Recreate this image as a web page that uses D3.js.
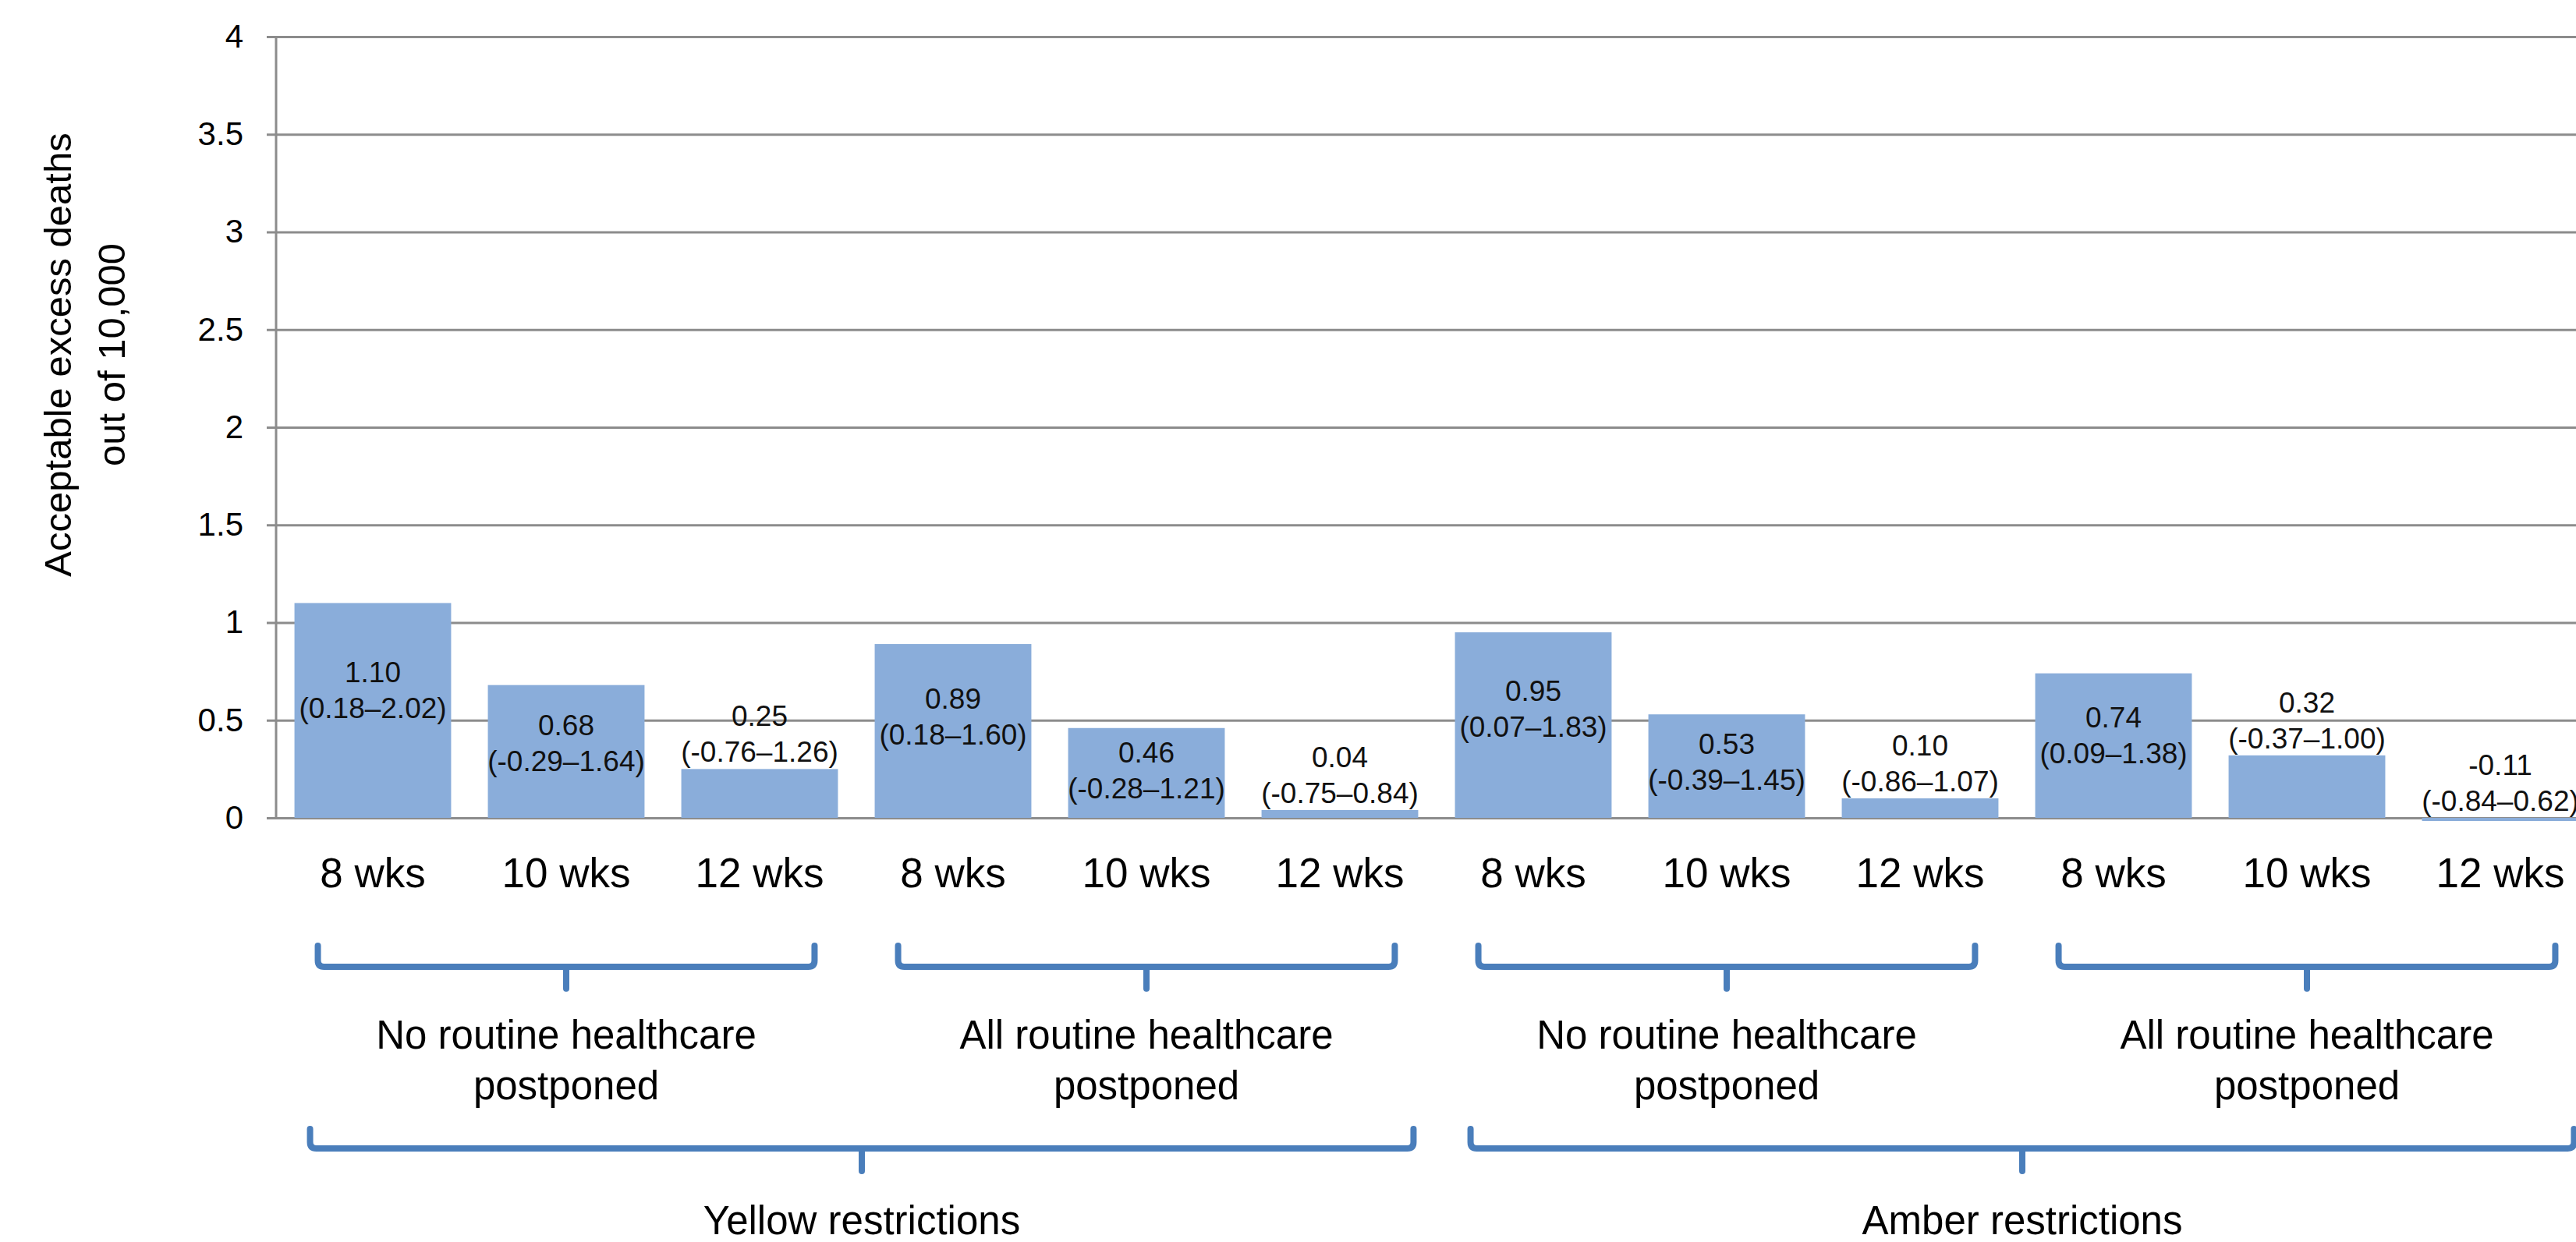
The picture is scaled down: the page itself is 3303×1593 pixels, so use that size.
<!DOCTYPE html>
<html lang="en">
<head>
<meta charset="utf-8">
<title>Acceptable excess deaths</title>
<script src="https://d3js.org/d3.v7.min.js"></script>
<style>
  body { margin: 0; background: #fff; }
  text { font-family: "Liberation Sans", Arial, sans-serif; fill: #000; }
  .grid line { stroke: #8c8c8c; stroke-width: 3px; }
  .grid text { font-size: 42px; }
  .bar { fill: #8aadda; }
  .val { font-size: 37px; fill: #111; }
  .cat { font-size: 53px; }
  .grp { font-size: 51px; }
  .brace { fill: none; stroke: #4a7ebb; stroke-width: 8px; stroke-linejoin: round; stroke-linecap: round; }
</style>
</head>
<body>
<div id="chart"></div>
<script>
// values
var weeks = ["8 wks", "10 wks", "12 wks", "8 wks", "10 wks", "12 wks",
             "8 wks", "10 wks", "12 wks", "8 wks", "10 wks", "12 wks"];
var deaths = [1.10, 0.68, 0.25, 0.89, 0.46, 0.04, 0.95, 0.53, 0.10, 0.74, 0.32, -0.11];
var ciLow  = [0.18, -0.29, -0.76, 0.18, -0.28, -0.75, 0.07, -0.39, -0.86, 0.09, -0.37, -0.84];
var ciHigh = [2.02, 1.64, 1.26, 1.60, 1.21, 0.84, 1.83, 1.45, 1.07, 1.38, 1.00, 0.62];
var careGroups = [["No routine healthcare", "postponed"], ["All routine healthcare", "postponed"],
                  ["No routine healthcare", "postponed"], ["All routine healthcare", "postponed"]];
var restrictions = ["Yellow restrictions", "Amber restrictions"];
var yTicks = [0, 0.5, 1, 1.5, 2, 2.5, 3, 3.5, 4];
var yTitle = ["Acceptable excess deaths", "out of 10,000"];

var width = 3303, height = 1593;
var plotLeft = 354, plotTop = 47, plotBottom = 1049, step = 248;

var svg = d3.select("#chart").append("svg")
    .attr("width", width)
    .attr("height", height);

var x = d3.scaleBand()
    .domain(d3.range(weeks.length))
    .range([plotLeft, plotLeft + step * weeks.length])
    .paddingInner(0.19)
    .paddingOuter(0.095);

var y = d3.scaleLinear().domain([0, 4]).range([plotBottom, plotTop]);

// gridlines + tick labels
svg.append("g")
    .attr("class", "grid")
    .attr("transform", "translate(" + (plotLeft - 12) + ",0)")
    .call(d3.axisLeft(y).tickValues(yTicks).tickFormat(d3.format("~g"))
        .tickSize(-(width - plotLeft + 12)).tickPadding(30))
    .call(function(g) { g.select(".domain").remove(); });

// y axis line
svg.append("line")
    .attr("x1", plotLeft).attr("x2", plotLeft)
    .attr("y1", y(4)).attr("y2", y(0))
    .attr("stroke", "#8c8c8c").attr("stroke-width", 3);

// axis title
svg.append("g").selectAll("text")
    .data(yTitle)
    .join("text")
    .attr("transform", function(d, i) { return "translate(" + (74 + i * 69) + "," + 455 + ") rotate(-90)"; })
    .attr("text-anchor", "middle")
    .attr("dy", "0.35em")
    .style("font-size", "49px")
    .text(function(d) { return d; });

// bars (negative values get clipped at the axis like the original)
svg.append("clipPath").attr("id", "plot")
    .append("rect")
    .attr("x", plotLeft).attr("y", y(4))
    .attr("width", width - plotLeft).attr("height", y(0) - y(4) + 4);

svg.append("g").attr("clip-path", "url(#plot)")
    .selectAll("rect")
    .data(deaths)
    .join("rect")
    .attr("class", "bar")
    .attr("x", function(d, i) { return x(i); })
    .attr("width", x.bandwidth())
    .attr("y", function(d) { return y(Math.max(d, 0)); })
    .attr("height", function(d) { return Math.abs(y(d) - y(0)); });

// value labels: inside tall bars, above short ones
function labelMid(d) {
    return d >= 0.4 ? y(d * 0.64 - 0.05) : y(Math.max(d, 0) + 0.18);
}
var labels = svg.append("g").selectAll("g")
    .data(deaths)
    .join("g")
    .attr("transform", function(d, i) { return "translate(" + (x(i) + x.bandwidth() / 2) + "," + labelMid(d) + ")"; });
labels.append("text")
    .attr("class", "val")
    .attr("text-anchor", "middle")
    .attr("y", -10)
    .text(function(d) { return d.toFixed(2); });
labels.append("text")
    .attr("class", "val")
    .attr("text-anchor", "middle")
    .attr("y", 36)
    .text(function(d, i) { return "(" + ciLow[i].toFixed(2) + "\u2013" + ciHigh[i].toFixed(2) + ")"; });

// category labels
svg.append("g").selectAll("text")
    .data(weeks)
    .join("text")
    .attr("class", "cat")
    .attr("text-anchor", "middle")
    .attr("x", function(d, i) { return x(i) + x.bandwidth() / 2; })
    .attr("y", 1138)
    .text(function(d) { return d; });

// braces
function brace(i0, i1, insetL, insetR, yTop, yLine, yTip) {
    var l = x(i0) + insetL, r = x(i1) + x.bandwidth() - insetR, c = (l + r) / 2, k = 8;
    return {c: c, d: "M" + l + "," + yTop + "V" + (yLine - k) + "Q" + l + "," + yLine + " " + (l + k) + "," + yLine +
        "H" + (r - k) + "Q" + r + "," + yLine + " " + r + "," + (yLine - k) + "V" + yTop +
        "M" + c + "," + yLine + "V" + yTip};
}

var care = careGroups.map(function(g, j) { return brace(j * 3, j * 3 + 2, 30, 30, 1213, 1240, 1268); });
svg.append("g").selectAll("path")
    .data(care).join("path")
    .attr("class", "brace")
    .attr("d", function(b) { return b.d; });

var careText = svg.append("g").selectAll("text")
    .data(careGroups).join("text")
    .attr("class", "grp")
    .attr("text-anchor", "middle");
careText.selectAll("tspan")
    .data(function(g, j) { return g.map(function(t) { return {t: t, c: care[j].c}; }); })
    .join("tspan")
    .attr("x", function(d) { return d.c; })
    .attr("y", function(d, k) { return 1345 + k * 65; })
    .text(function(d) { return d.t; });

var restr = restrictions.map(function(g, j) { return brace(j * 6, j * 6 + 5, 20, 6, 1448, 1473, 1502); });
svg.append("g").selectAll("path")
    .data(restr).join("path")
    .attr("class", "brace")
    .attr("d", function(b) { return b.d; });

svg.append("g").selectAll("text")
    .data(restrictions).join("text")
    .attr("class", "grp")
    .attr("text-anchor", "middle")
    .attr("x", function(d, j) { return restr[j].c; })
    .attr("y", 1583)
    .text(function(d) { return d; });
</script>
</body>
</html>
